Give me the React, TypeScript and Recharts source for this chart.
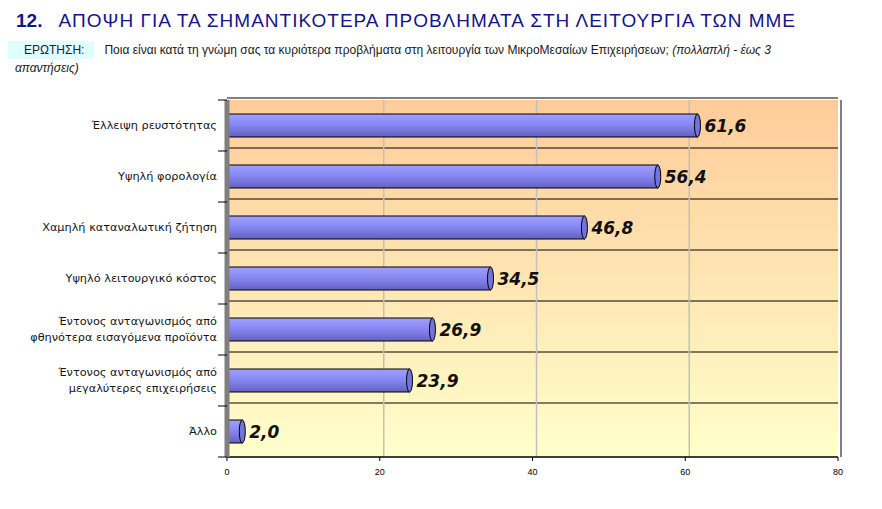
import * as React from "react";
import {
  BarChart,
  Bar,
  XAxis,
  YAxis,
  CartesianGrid,
  LabelList,
} from "recharts";

const categories = [
  "Έλλειψη ρευστότητας",
  "Υψηλή φορολογία",
  "Χαμηλή καταναλωτική ζήτηση",
  "Υψηλό λειτουργικό κόστος",
  "Έντονος ανταγωνισμός από\nφθηνότερα εισαγόμενα προϊόντα",
  "Έντονος ανταγωνισμός από\nμεγαλύτερες επιχειρήσεις",
  "Άλλο",
];
const values = [61.6, 56.4, 46.8, 34.5, 26.9, 23.9, 2.0];
const xTicks = [0, 20, 40, 60, 80];

const data = categories.map((name, i) => ({ name, value: values[i] }));

const BAND = 51;
const navy = "#14148C";

const formatValue = (v: number): string => v.toFixed(1).replace(".", ",");

const CategoryTick = (props: any) => {
  const { x, y, payload, index } = props;
  const lines = String(payload.value).split("\n");
  const lh = 16;
  const start = -((lines.length - 1) * lh) / 2;
  return (
    <g>
      <line x1={x - 9} x2={x} y1={y + BAND / 2} y2={y + BAND / 2} stroke="#000" />
      {index === 0 && (
        <line x1={x - 9} x2={x} y1={y - BAND / 2} y2={y - BAND / 2} stroke="#000" />
      )}
      <text
        x={x - 10}
        y={y}
        textAnchor="end"
        fontFamily="DejaVu Sans"
        fontSize={11.3}
        fill="#151515"
      >
        {lines.map((l, i) => (
          <tspan key={i} x={x - 10} y={y + start + i * lh} dy="0.35em">
            {l}
          </tspan>
        ))}
      </text>
    </g>
  );
};

const CylinderBar = (props: any) => {
  const { x, y, width, height } = props;
  if (width == null || height == null) return null;
  return (
    <g>
      <rect
        x={x}
        y={y}
        width={width}
        height={height}
        fill="url(#barGrad)"
        stroke="#000"
        strokeWidth={1}
      />
      <ellipse
        cx={x + width}
        cy={y + height / 2}
        rx={3}
        ry={height / 2}
        fill="#7474D8"
        stroke="#000"
        strokeWidth={1}
      />
    </g>
  );
};

export default function App() {
  return (
    <div
      style={{
        position: "fixed",
        left: 0,
        top: 0,
        width: 882,
        height: 509,
        background: "#fff",
        fontFamily: "Liberation Sans, Arial, sans-serif",
      }}
    >
      <div
        style={{
          position: "absolute",
          left: 16,
          top: 9,
          fontSize: 19,
          lineHeight: "24px",
          color: navy,
          whiteSpace: "nowrap",
        }}
      >
        <span style={{ fontWeight: "bold" }}>12.</span>
        <span style={{ marginLeft: 16, letterSpacing: 1 }}>
          ΑΠΟΨΗ ΓΙΑ ΤΑ ΣΗΜΑΝΤΙΚΟΤΕΡΑ ΠΡΟΒΛΗΜΑΤΑ ΣΤΗ ΛΕΙΤΟΥΡΓΙΑ ΤΩΝ ΜΜΕ
        </span>
      </div>
      <div
        style={{
          position: "absolute",
          left: 8,
          top: 41,
          fontSize: 12,
          lineHeight: "18px",
          color: "#1a1a1a",
          whiteSpace: "nowrap",
        }}
      >
        <span
          style={{
            display: "inline-block",
            background: "#DFFFFF",
            color: "#1a1a50",
            padding: "0 10px 0 16px",
            marginRight: 10,
          }}
        >
          ΕΡΩΤΗΣΗ:
        </span>
        <span>
          Ποια είναι κατά τη γνώμη σας τα κυριότερα προβλήματα στη λειτουργία
          των ΜικροΜεσαίων Επιχειρήσεων; <i>(πολλαπλή - έως 3</i>
        </span>
      </div>
      <div
        style={{
          position: "absolute",
          left: 15,
          top: 60,
          fontSize: 12,
          lineHeight: "16px",
          color: "#1a1a1a",
          fontStyle: "italic",
          whiteSpace: "nowrap",
        }}
      >
        απαντήσεις)
      </div>
      <div style={{ position: "absolute", left: 0, top: 0 }}>
        <BarChart
          width={882}
          height={509}
          data={data}
          layout="vertical"
          barSize={23}
          margin={{ top: 100, right: 44, bottom: 22, left: 0 }}
        >
          <defs>
            <linearGradient id="bgGrad" x1="0" y1="0" x2="0" y2="1">
              <stop offset="0%" stopColor="#FFCC99" />
              <stop offset="100%" stopColor="#FFFFCC" />
            </linearGradient>
            <linearGradient id="barGrad" x1="0" y1="0" x2="0" y2="1">
              <stop offset="0%" stopColor="#A0A0FF" />
              <stop offset="45%" stopColor="#8888F4" />
              <stop offset="100%" stopColor="#6262C0" />
            </linearGradient>
          </defs>
          <CartesianGrid
            fill="url(#bgGrad)"
            fillOpacity={1}
            vertical={false}
            stroke="#000"
            strokeDasharray="0"
            horizontalCoordinatesGenerator={({ offset }: any) =>
              [1, 2, 3, 4, 5, 6].map((k) => offset.top + (k * offset.height) / 7 - 3)
            }
          />
          <CartesianGrid
            horizontal={false}
            stroke="#C0C0C0"
            strokeWidth={1.5}
            strokeDasharray="0"
            verticalCoordinatesGenerator={({ offset }: any) =>
              [1, 2, 3].map((k) => offset.left + (k * offset.width) / 4 + 4)
            }
          />
          <CartesianGrid
            stroke="#808080"
            strokeWidth={2}
            strokeDasharray="0"
            horizontalCoordinatesGenerator={({ offset }: any) => [offset.top - 2]}
            verticalCoordinatesGenerator={({ offset }: any) => [
              offset.left + offset.width + 3,
            ]}
          />
          <XAxis
            type="number"
            domain={[0, 80]}
            ticks={xTicks}
            height={30}
            tick={{ fontSize: 9, fill: "#000", fontFamily: "Liberation Sans" }}
            axisLine={{ stroke: "#000", strokeWidth: 1.5 }}
            tickLine={{ stroke: "#000" }}
            tickSize={4}
            tickMargin={8}
          />
          <YAxis
            type="category"
            dataKey="name"
            width={227}
            tickSize={0}
            tickMargin={0}
            axisLine={{ stroke: "#7F7F7F", strokeWidth: 5 }}
            tickLine={false}
            tick={<CategoryTick />}
            interval={0}
          />
          <Bar dataKey="value" shape={<CylinderBar />} isAnimationActive={false}>
            <LabelList
              dataKey="value"
              position="right"
              offset={7}
              formatter={(v: any) => formatValue(Number(v))}
              fill="#111"
              fontSize={17}
              fontWeight="bold"
              fontStyle="italic"
              fontFamily="DejaVu Sans"
            />
          </Bar>
        </BarChart>
      </div>
    </div>
  );
}
